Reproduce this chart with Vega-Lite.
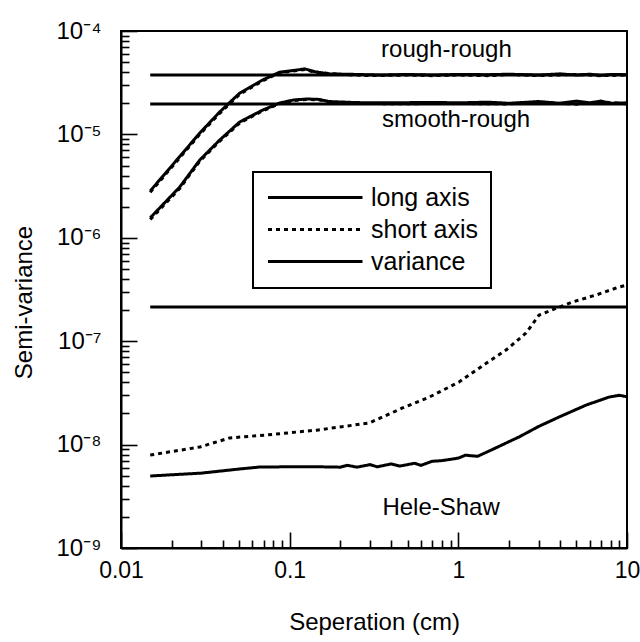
{
  "$schema": "https://vega.github.io/schema/vega-lite/v6.json",
  "autosize": "none",
  "width": 506,
  "height": 517,
  "padding": {"left": 121, "top": 31, "right": 13, "bottom": 94},
  "background": "white",
  "config": {
    "view": {"stroke": "black", "strokeWidth": 2},
    "font": "Liberation Sans",
    "axis": {"grid": false, "domainColor": "black", "domainWidth": 2, "tickColor": "black", "tickWidth": 1.6, "labelColor": "black", "titleColor": "black", "labelFont": "Liberation Sans", "titleFont": "Liberation Sans", "titleFontWeight": "normal"},
    "legend": {"strokeWidth": 2}
  },
  "datasets": {
    "curves": [
      {"series": "rr_long", "type": "long axis", "x": 0.0149, "y": 2.84e-6},
      {"series": "rr_long", "type": "long axis", "x": 0.0195, "y": 4.73e-6},
      {"series": "rr_long", "type": "long axis", "x": 0.0293, "y": 1.03e-5},
      {"series": "rr_long", "type": "long axis", "x": 0.0385, "y": 1.65e-5},
      {"series": "rr_long", "type": "long axis", "x": 0.0506, "y": 2.51e-5},
      {"series": "rr_long", "type": "long axis", "x": 0.0692, "y": 3.36e-5},
      {"series": "rr_long", "type": "long axis", "x": 0.0872, "y": 4.0e-5},
      {"series": "rr_long", "type": "long axis", "x": 0.105, "y": 4.15e-5},
      {"series": "rr_long", "type": "long axis", "x": 0.123, "y": 4.3e-5},
      {"series": "rr_long", "type": "long axis", "x": 0.14, "y": 4.05e-5},
      {"series": "rr_long", "type": "long axis", "x": 0.17, "y": 3.85e-5},
      {"series": "rr_long", "type": "long axis", "x": 0.25, "y": 3.8e-5},
      {"series": "rr_long", "type": "long axis", "x": 0.35, "y": 3.75e-5},
      {"series": "rr_long", "type": "long axis", "x": 0.5, "y": 3.8e-5},
      {"series": "rr_long", "type": "long axis", "x": 0.7, "y": 3.75e-5},
      {"series": "rr_long", "type": "long axis", "x": 1.0, "y": 3.8e-5},
      {"series": "rr_long", "type": "long axis", "x": 1.5, "y": 3.78e-5},
      {"series": "rr_long", "type": "long axis", "x": 2.0, "y": 3.82e-5},
      {"series": "rr_long", "type": "long axis", "x": 3.0, "y": 3.75e-5},
      {"series": "rr_long", "type": "long axis", "x": 4.0, "y": 3.85e-5},
      {"series": "rr_long", "type": "long axis", "x": 5.0, "y": 3.75e-5},
      {"series": "rr_long", "type": "long axis", "x": 6.0, "y": 3.82e-5},
      {"series": "rr_long", "type": "long axis", "x": 7.0, "y": 3.72e-5},
      {"series": "rr_long", "type": "long axis", "x": 8.0, "y": 3.8e-5},
      {"series": "rr_long", "type": "long axis", "x": 10.0, "y": 3.78e-5},
      {"series": "rr_short", "type": "short axis", "x": 0.0149, "y": 2.75e-6},
      {"series": "rr_short", "type": "short axis", "x": 0.0195, "y": 4.6e-6},
      {"series": "rr_short", "type": "short axis", "x": 0.0293, "y": 1.0e-5},
      {"series": "rr_short", "type": "short axis", "x": 0.0385, "y": 1.6e-5},
      {"series": "rr_short", "type": "short axis", "x": 0.0506, "y": 2.45e-5},
      {"series": "rr_short", "type": "short axis", "x": 0.0692, "y": 3.3e-5},
      {"series": "rr_short", "type": "short axis", "x": 0.0872, "y": 3.95e-5},
      {"series": "rr_short", "type": "short axis", "x": 0.105, "y": 4.1e-5},
      {"series": "rr_short", "type": "short axis", "x": 0.123, "y": 4.25e-5},
      {"series": "rr_short", "type": "short axis", "x": 0.14, "y": 4.0e-5},
      {"series": "rr_short", "type": "short axis", "x": 0.2, "y": 3.8e-5},
      {"series": "rr_short", "type": "short axis", "x": 0.3, "y": 3.7e-5},
      {"series": "rr_short", "type": "short axis", "x": 0.5, "y": 3.75e-5},
      {"series": "rr_short", "type": "short axis", "x": 0.7, "y": 3.7e-5},
      {"series": "rr_short", "type": "short axis", "x": 1.0, "y": 3.75e-5},
      {"series": "rr_short", "type": "short axis", "x": 1.5, "y": 3.7e-5},
      {"series": "rr_short", "type": "short axis", "x": 2.0, "y": 3.8e-5},
      {"series": "rr_short", "type": "short axis", "x": 3.0, "y": 3.7e-5},
      {"series": "rr_short", "type": "short axis", "x": 5.0, "y": 3.8e-5},
      {"series": "rr_short", "type": "short axis", "x": 7.0, "y": 3.7e-5},
      {"series": "rr_short", "type": "short axis", "x": 10.0, "y": 3.75e-5},
      {"series": "sr_long", "type": "long axis", "x": 0.0149, "y": 1.56e-6},
      {"series": "sr_long", "type": "long axis", "x": 0.0223, "y": 3.1e-6},
      {"series": "sr_long", "type": "long axis", "x": 0.0293, "y": 5.65e-6},
      {"series": "sr_long", "type": "long axis", "x": 0.0385, "y": 8.83e-6},
      {"series": "sr_long", "type": "long axis", "x": 0.0506, "y": 1.32e-5},
      {"series": "sr_long", "type": "long axis", "x": 0.0692, "y": 1.72e-5},
      {"series": "sr_long", "type": "long axis", "x": 0.0872, "y": 2.01e-5},
      {"series": "sr_long", "type": "long axis", "x": 0.105, "y": 2.15e-5},
      {"series": "sr_long", "type": "long axis", "x": 0.126, "y": 2.2e-5},
      {"series": "sr_long", "type": "long axis", "x": 0.15, "y": 2.18e-5},
      {"series": "sr_long", "type": "long axis", "x": 0.17, "y": 2.08e-5},
      {"series": "sr_long", "type": "long axis", "x": 0.25, "y": 2.03e-5},
      {"series": "sr_long", "type": "long axis", "x": 0.4, "y": 2.02e-5},
      {"series": "sr_long", "type": "long axis", "x": 0.7, "y": 2.04e-5},
      {"series": "sr_long", "type": "long axis", "x": 1.0, "y": 2.02e-5},
      {"series": "sr_long", "type": "long axis", "x": 1.5, "y": 2.05e-5},
      {"series": "sr_long", "type": "long axis", "x": 2.0, "y": 2.0e-5},
      {"series": "sr_long", "type": "long axis", "x": 3.0, "y": 2.08e-5},
      {"series": "sr_long", "type": "long axis", "x": 4.0, "y": 2.0e-5},
      {"series": "sr_long", "type": "long axis", "x": 5.0, "y": 2.1e-5},
      {"series": "sr_long", "type": "long axis", "x": 6.0, "y": 2.02e-5},
      {"series": "sr_long", "type": "long axis", "x": 7.0, "y": 2.1e-5},
      {"series": "sr_long", "type": "long axis", "x": 8.0, "y": 2.0e-5},
      {"series": "sr_long", "type": "long axis", "x": 10.0, "y": 2.02e-5},
      {"series": "sr_short", "type": "short axis", "x": 0.0149, "y": 1.5e-6},
      {"series": "sr_short", "type": "short axis", "x": 0.0223, "y": 3.0e-6},
      {"series": "sr_short", "type": "short axis", "x": 0.0293, "y": 5.5e-6},
      {"series": "sr_short", "type": "short axis", "x": 0.0385, "y": 8.6e-6},
      {"series": "sr_short", "type": "short axis", "x": 0.0506, "y": 1.29e-5},
      {"series": "sr_short", "type": "short axis", "x": 0.0692, "y": 1.69e-5},
      {"series": "sr_short", "type": "short axis", "x": 0.0872, "y": 1.98e-5},
      {"series": "sr_short", "type": "short axis", "x": 0.105, "y": 2.12e-5},
      {"series": "sr_short", "type": "short axis", "x": 0.126, "y": 2.18e-5},
      {"series": "sr_short", "type": "short axis", "x": 0.15, "y": 2.15e-5},
      {"series": "sr_short", "type": "short axis", "x": 0.2, "y": 2.0e-5},
      {"series": "sr_short", "type": "short axis", "x": 0.4, "y": 1.98e-5},
      {"series": "sr_short", "type": "short axis", "x": 1.0, "y": 1.99e-5},
      {"series": "sr_short", "type": "short axis", "x": 2.0, "y": 1.97e-5},
      {"series": "sr_short", "type": "short axis", "x": 3.0, "y": 2.05e-5},
      {"series": "sr_short", "type": "short axis", "x": 5.0, "y": 1.96e-5},
      {"series": "sr_short", "type": "short axis", "x": 7.0, "y": 2.06e-5},
      {"series": "sr_short", "type": "short axis", "x": 10.0, "y": 1.98e-5},
      {"series": "hs_long", "type": "long axis", "x": 0.0149, "y": 4.97e-9},
      {"series": "hs_long", "type": "long axis", "x": 0.03, "y": 5.3e-9},
      {"series": "hs_long", "type": "long axis", "x": 0.05, "y": 5.8e-9},
      {"series": "hs_long", "type": "long axis", "x": 0.0664, "y": 6.07e-9},
      {"series": "hs_long", "type": "long axis", "x": 0.1, "y": 6.1e-9},
      {"series": "hs_long", "type": "long axis", "x": 0.15, "y": 6.1e-9},
      {"series": "hs_long", "type": "long axis", "x": 0.2, "y": 6.05e-9},
      {"series": "hs_long", "type": "long axis", "x": 0.22, "y": 6.3e-9},
      {"series": "hs_long", "type": "long axis", "x": 0.25, "y": 6.05e-9},
      {"series": "hs_long", "type": "long axis", "x": 0.3, "y": 6.4e-9},
      {"series": "hs_long", "type": "long axis", "x": 0.33, "y": 6.1e-9},
      {"series": "hs_long", "type": "long axis", "x": 0.4, "y": 6.5e-9},
      {"series": "hs_long", "type": "long axis", "x": 0.45, "y": 6.2e-9},
      {"series": "hs_long", "type": "long axis", "x": 0.55, "y": 6.6e-9},
      {"series": "hs_long", "type": "long axis", "x": 0.6, "y": 6.3e-9},
      {"series": "hs_long", "type": "long axis", "x": 0.7, "y": 6.9e-9},
      {"series": "hs_long", "type": "long axis", "x": 0.8, "y": 7.0e-9},
      {"series": "hs_long", "type": "long axis", "x": 1.0, "y": 7.4e-9},
      {"series": "hs_long", "type": "long axis", "x": 1.1, "y": 7.9e-9},
      {"series": "hs_long", "type": "long axis", "x": 1.3, "y": 7.7e-9},
      {"series": "hs_long", "type": "long axis", "x": 1.6, "y": 9.0e-9},
      {"series": "hs_long", "type": "long axis", "x": 2.3, "y": 1.19e-8},
      {"series": "hs_long", "type": "long axis", "x": 3.0, "y": 1.5e-8},
      {"series": "hs_long", "type": "long axis", "x": 3.96, "y": 1.85e-8},
      {"series": "hs_long", "type": "long axis", "x": 5.72, "y": 2.41e-8},
      {"series": "hs_long", "type": "long axis", "x": 7.82, "y": 2.88e-8},
      {"series": "hs_long", "type": "long axis", "x": 9.0, "y": 3.0e-8},
      {"series": "hs_long", "type": "long axis", "x": 10.0, "y": 2.9e-8},
      {"series": "hs_short", "type": "short axis", "x": 0.0149, "y": 7.92e-9},
      {"series": "hs_short", "type": "short axis", "x": 0.0293, "y": 9.48e-9},
      {"series": "hs_short", "type": "short axis", "x": 0.0442, "y": 1.16e-8},
      {"series": "hs_short", "type": "short axis", "x": 0.0731, "y": 1.24e-8},
      {"series": "hs_short", "type": "short axis", "x": 0.1445, "y": 1.38e-8},
      {"series": "hs_short", "type": "short axis", "x": 0.297, "y": 1.62e-8},
      {"series": "hs_short", "type": "short axis", "x": 0.467, "y": 2.26e-8},
      {"series": "hs_short", "type": "short axis", "x": 0.673, "y": 2.88e-8},
      {"series": "hs_short", "type": "short axis", "x": 1.01, "y": 4.03e-8},
      {"series": "hs_short", "type": "short axis", "x": 1.47, "y": 6.15e-8},
      {"series": "hs_short", "type": "short axis", "x": 1.92, "y": 8.22e-8},
      {"series": "hs_short", "type": "short axis", "x": 2.52, "y": 1.2e-7},
      {"series": "hs_short", "type": "short axis", "x": 3.01, "y": 1.79e-7},
      {"series": "hs_short", "type": "short axis", "x": 4.73, "y": 2.39e-7},
      {"series": "hs_short", "type": "short axis", "x": 6.56, "y": 2.8e-7},
      {"series": "hs_short", "type": "short axis", "x": 8.97, "y": 3.34e-7},
      {"series": "hs_short", "type": "short axis", "x": 10.0, "y": 3.5e-7},
      {"series": "rr_var", "type": "variance", "x": 0.0149, "y": 3.75e-5},
      {"series": "rr_var", "type": "variance", "x": 10.0, "y": 3.75e-5},
      {"series": "sr_var", "type": "variance", "x": 0.0149, "y": 1.97e-5},
      {"series": "sr_var", "type": "variance", "x": 10.0, "y": 1.97e-5},
      {"series": "hs_var", "type": "variance", "x": 0.0149, "y": 2.14e-7},
      {"series": "hs_var", "type": "variance", "x": 10.0, "y": 2.14e-7}
    ],
    "labels": [
      {"label": "rough-rough", "x": 0.85, "y": 6.5e-5},
      {"label": "smooth-rough", "x": 0.97, "y": 1.38e-5},
      {"label": "Hele-Shaw", "x": 0.79, "y": 2.44e-9}
    ]
  },
  "layer": [
    {
      "data": {"name": "curves"},
      "mark": {"type": "line", "color": "black", "strokeCap": "butt"},
      "encoding": {
        "x": {
          "field": "x", "type": "quantitative",
          "scale": {"type": "log", "domain": [0.01, 10], "nice": false},
          "axis": {
            "orient": "bottom",
            "title": "Seperation (cm)",
            "titleFontSize": 24,
            "titleY": 62,
            "titleBaseline": "top",
            "values": [0.01, 0.1, 1, 10],
            "labelExpr": "datum.value == 0.01 ? '0.01' : datum.value == 0.1 ? '0.1' : datum.value == 1 ? '1' : '10'",
            "labelFontSize": 23,
            "labelPadding": 27,
            "labelFlush": false,
            "labelOverlap": false,
            "tickSize": -16
          }
        },
        "y": {
          "field": "y", "type": "quantitative",
          "scale": {"type": "log", "domain": [1e-9, 1e-4], "nice": false},
          "axis": {
            "orient": "left",
            "title": "Semi-variance",
            "titleFontSize": 24,
            "titleX": -90,
            "titleY": 271,
            "titleAlign": "center",
            "titleBaseline": "alphabetic",
            "values": [1e-9, 1e-8, 1e-7, 1e-6, 1e-5, 1e-4],
            "labelExpr": "datum.value == 1e-4 ? '10⁻⁴' : datum.value == 1e-5 ? '10⁻⁵' : datum.value == 1e-6 ? '10⁻⁶' : datum.value == 1e-7 ? '10⁻⁷' : datum.value == 1e-8 ? '10⁻⁸' : '10⁻⁹'",
            "labelFontSize": 24,
            "labelPadding": 36,
            "labelFlush": false,
            "labelOverlap": false,
            "tickSize": -16
          }
        },
        "detail": {"field": "series"},
        "strokeDash": {
          "field": "type", "type": "nominal",
          "scale": {"domain": ["long axis", "short axis", "variance"], "range": [[1, 0], [4, 4], [1, 0]]},
          "legend": {"title": null, "orient": "none", "legendX": 132, "legendY": 141, "strokeColor": "black", "padding": 13, "labelFontSize": 25, "labelColor": "black", "labelFont": "Liberation Sans", "symbolType": "M-1,0H8", "symbolSize": 441, "symbolStrokeColor": "black", "symbolFillColor": "transparent", "labelOffset": 80, "rowPadding": 6}
        },
        "strokeWidth": {
          "field": "type", "type": "nominal",
          "scale": {"domain": ["long axis", "short axis", "variance"], "range": [3, 3, 1.3]},
          "legend": {"title": null, "orient": "none", "legendX": 132, "legendY": 141, "strokeColor": "black", "padding": 13, "labelFontSize": 25, "labelColor": "black", "labelFont": "Liberation Sans", "symbolType": "M-1,0H8", "symbolSize": 441, "symbolStrokeColor": "black", "symbolFillColor": "transparent", "labelOffset": 80, "rowPadding": 6}
        }
      }
    },
    {
      "data": {"name": "labels"},
      "mark": {"type": "text", "fontSize": 24, "color": "black", "font": "Liberation Sans", "align": "center", "baseline": "middle"},
      "encoding": {
        "x": {
          "field": "x", "type": "quantitative",
          "axis": {
            "orient": "bottom",
            "title": null,
            "labels": false,
            "domain": false,
            "values": [0.02,0.03,0.04,0.05,0.06,0.07,0.08,0.09,0.2,0.3,0.4,0.5,0.6,0.7,0.8,0.9,2,3,4,5,6,7,8,9],
            "tickSize": -8
          }
        },
        "y": {
          "field": "y", "type": "quantitative",
          "axis": {
            "orient": "left",
            "title": null,
            "labels": false,
            "domain": false,
            "values": [2e-9,3e-9,4e-9,5e-9,6e-9,7e-9,8e-9,9e-9,2e-8,3e-8,4e-8,5e-8,6e-8,7e-8,8e-8,9e-8,2e-7,3e-7,4e-7,5e-7,6e-7,7e-7,8e-7,9e-7,2e-6,3e-6,4e-6,5e-6,6e-6,7e-6,8e-6,9e-6,2e-5,3e-5,4e-5,5e-5,6e-5,7e-5,8e-5,9e-5],
            "tickSize": -8
          }
        },
        "text": {"field": "label"}
      }
    }
  ],
  "resolve": {"axis": {"x": "independent", "y": "independent"}}
}
